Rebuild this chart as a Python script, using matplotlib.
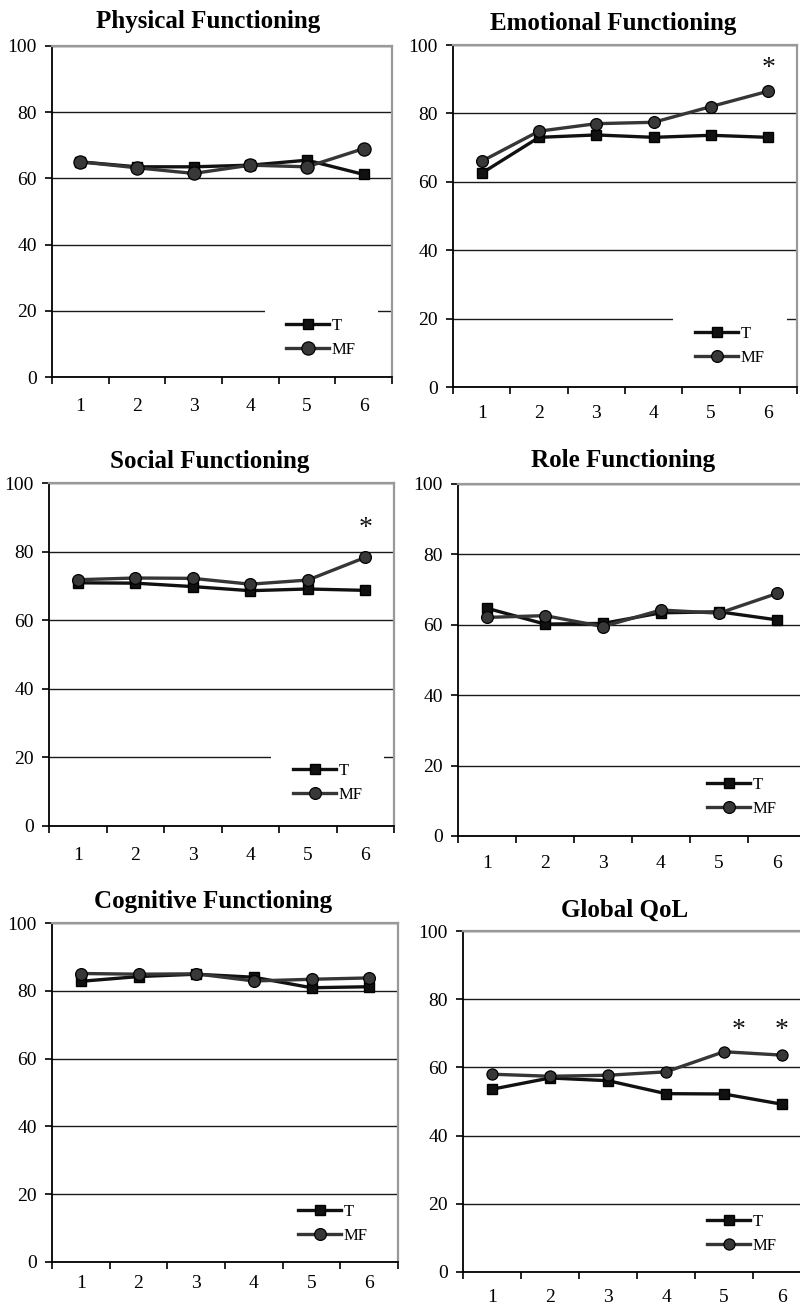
import numpy as np
import matplotlib
matplotlib.use("Agg")
import matplotlib.pyplot as plt

plt.rcParams["font.family"] = ["Liberation Serif", "DejaVu Serif"]

# visits on the category axis
visits = [1, 2, 3, 4, 5, 6]
visit_labels = ["1", "2", "3", "4", "5", "6"]
series_names = ["T", "MF"]

titles = ["Physical Functioning", "Emotional Functioning", "Social Functioning",
          "Role Functioning", "Cognitive Functioning", "Global QoL"]

phys_t = [65.0, 63.5, 63.5, 64.0, 65.5, 61.2]
phys_mf = [65.0, 63.2, 61.5, 64.0, 63.5, 69.0]
emo_t = [62.5, 73.0, 73.7, 73.0, 73.6, 73.0]
emo_mf = [66.0, 74.8, 77.0, 77.4, 82.0, 86.5]
soc_t = [70.9, 70.8, 69.8, 68.6, 69.1, 68.7]
soc_mf = [71.8, 72.3, 72.2, 70.5, 71.7, 78.3]
role_t = [64.7, 60.2, 60.4, 63.4, 63.7, 61.4]
role_mf = [62.1, 62.6, 59.5, 64.2, 63.3, 68.9]
cog_t = [82.8, 84.2, 84.9, 84.0, 80.9, 81.2]
cog_mf = [85.1, 84.9, 85.0, 82.9, 83.4, 83.8]
qol_t = [53.6, 56.9, 56.1, 52.3, 52.2, 49.2]
qol_mf = [58.0, 57.4, 57.7, 58.7, 64.6, 63.6]

t_values = [phys_t, emo_t, soc_t, role_t, cog_t, qol_t]
mf_values = [phys_mf, emo_mf, soc_mf, role_mf, cog_mf, qol_mf]

# visits with a significant difference (asterisk)
significant = [[], [6], [6], [], [], [5, 6]]

W, H = 800, 1306
fig = plt.figure(figsize=(W / 100, H / 100), dpi=100)

# layout in pixels: left, top, right, bottom of the plot area
boxes = [(52, 46, 392, 377), (453, 45, 797, 387), (49, 483, 394, 826),
         (458, 484, 806, 836), (52, 923, 398, 1262), (463, 931, 811, 1272)]
title_cx = [208, 613, 210, 623, 213, 625]
title_pad = [13, 11, 11, 12, 11, 10.5]
xlab_pad = [15, 13, 15, 14, 9, 12.5]
leg_x = [286, 695, 293, 707, 298, 707]          # start of legend handle
leg_y = [338, 346, 783, 797, 1224, 1234]        # middle between the rows
# white legend area breaking the 20 gridline (axes fraction), None = no break
leg_gap = [(0.626, 0.959), (0.64, 0.971), (0.643, 0.971), None, None, None]
star_y = [None, 93.2, 86.8, None, None, 70.9]
star_dx = {5: 0.25, 6: 0.0}
circle_size = [9.5, 8.5, 8.5, 8.5, 8.5, 8]

for i in range(6):
    l, t, r, b = boxes[i]
    ax = fig.add_axes([l / W, 1 - b / H, (r - l) / W, (b - t) / H])

    ax.plot(visits, t_values[i], color="#111111", lw=2.4, marker="s", ms=7.4,
            mfc="#111111", mec="#000000", label=series_names[0], zorder=3)
    ax.plot(visits, mf_values[i], color="#363636", lw=2.4, marker="o",
            ms=circle_size[i], mfc="#383838", mec="#000000", mew=0.9,
            label=series_names[1], zorder=4)

    for v in significant[i]:
        ax.text(v + star_dx[v], star_y[i], "*", fontsize=20, ha="center",
                va="center", color="#111111")

    ax.set_xlim(0.5, 6.5)
    ax.set_ylim(0, 100)
    ax.set_xticks(np.arange(0.5, 7, 1))
    ax.set_xticklabels([])
    ax.set_xticks(visits, minor=True)
    ax.set_xticklabels(visit_labels, minor=True)
    ax.tick_params(axis="x", which="major", direction="out", length=5,
                   width=1.2, color="#000000")
    ax.tick_params(axis="x", which="minor", length=0, pad=xlab_pad[i],
                   labelsize=14)
    ax.set_yticks(np.arange(0, 101, 20))
    ax.tick_params(axis="y", direction="out", length=5, width=1.2, pad=6,
                   labelsize=14)

    ax.yaxis.grid(True, color="#1a1a1a", lw=1.0)
    ax.set_axisbelow(True)
    for side in ["top", "right"]:
        ax.spines[side].set_color("#999999")
        ax.spines[side].set_linewidth(1.6)
    for side in ["left", "bottom"]:
        ax.spines[side].set_color("#000000")
        ax.spines[side].set_linewidth(1.3)

    if leg_gap[i] is not None:
        ax.axhspan(18.5, 21.5, xmin=leg_gap[i][0], xmax=leg_gap[i][1],
                   color="white", lw=0, zorder=1)

    ax.set_title(titles[i], fontsize=18, fontweight="bold",
                 x=(title_cx[i] - l) / (r - l), pad=title_pad[i])

    fs_px = 12 * 100 / 72
    bpad = 0.5
    ax.legend(loc="center left", fontsize=12, frameon=False,
              bbox_to_anchor=((leg_x[i] - bpad * fs_px) / W, 1 - leg_y[i] / H),
              bbox_transform=fig.transFigure, borderpad=bpad,
              borderaxespad=0, handlelength=2.6, handletextpad=0.15,
              labelspacing=0.5)

fig.savefig("out.png", dpi=100)
